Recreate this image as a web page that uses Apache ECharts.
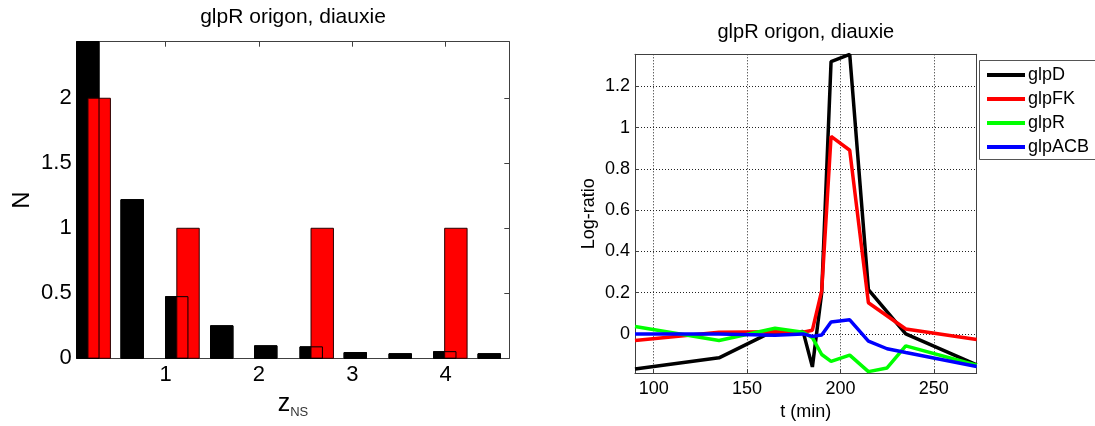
<!DOCTYPE html>
<html>
<head>
<meta charset="utf-8">
<script src="https://cdn.jsdelivr.net/npm/echarts@6.0.0/dist/echarts.min.js"></script>
<style>
  html, body { margin: 0; padding: 0; background: #fff; }
  #chart { width: 1095px; height: 426px; }
</style>
</head>
<body>
<div id="chart"></div>
<script>
// ---- data ----
const TITLE = 'glpR origon, diauxie';

// z_NS histogram: black bins (all genes) and red bins (glpR origon genes)
const BLACK_BIN_CENTERS = [0.168, 0.643, 1.120, 1.602, 2.073, 2.560, 3.032, 3.513, 3.990, 4.466];
const BLACK_COUNTS      = [3.0, 1.22, 0.474, 0.25, 0.096, 0.088, 0.044, 0.035, 0.051, 0.035];
const RED_BIN_CENTERS   = [0.290, 1.241, 2.678, 4.109];
const RED_COUNTS        = [2, 1, 1, 1];
const ZNS_TICKS = [1, 2, 3, 4];
const N_TICKS   = [0, 0.5, 1, 1.5, 2];

// log-ratio time courses
const GENE_NAMES = ['glpD', 'glpFK', 'glpR', 'glpACB'];
const T_GLPD   = [90, 135, 160, 180, 185, 190, 195, 205, 215, 235, 273];
const GLPD     = [-0.17, -0.116, -0.005, 0.012, -0.16, 0.2, 1.32, 1.355, 0.215, 0.0, -0.15];
const T_GLPFK  = [90, 135, 165, 180, 185, 190, 195, 205, 215, 235, 273];
const GLPFK    = [-0.032, 0.008, 0.01, 0.008, 0.018, 0.21, 0.957, 0.89, 0.151, 0.024, -0.027];
const T_GLPR   = [90, 135, 165, 180, 185, 190, 195, 205, 215, 225, 235, 273];
const GLPR     = [0.036, -0.032, 0.027, 0.008, -0.018, -0.10, -0.133, -0.103, -0.183, -0.165, -0.058, -0.152];
const T_GLPACB = [90, 135, 165, 180, 185, 190, 195, 205, 215, 225, 235, 273];
const GLPACB   = [0.0, 0.0, -0.006, 0.0, -0.012, -0.005, 0.058, 0.068, -0.035, -0.072, -0.09, -0.158];
const T_TICKS   = [100, 150, 200, 250];
const LOG_TICKS = [0, 0.2, 0.4, 0.6, 0.8, 1, 1.2];

// ---- styling ----
const FONT = '"Liberation Sans", Arial, Helvetica, sans-serif';
const BAR_W = 0.24;
const BOX = '#404040';
const GENE_COLORS = ['#000000', '#ff0000', '#00ff00', '#0000ff'];

const pairs = (xs, ys) => xs.map((x, i) => [x, ys[i]]);

function barItem(fill, stroke) {
  return function (params, api) {
    const c = api.value(0), h = api.value(1);
    const p0 = api.coord([c - BAR_W / 2, h]);
    const p1 = api.coord([c + BAR_W / 2, 0]);
    const cs = params.coordSys;
    const shape = echarts.graphic.clipRectByRect(
      { x: p0[0], y: p0[1], width: p1[0] - p0[0], height: p1[1] - p0[1] },
      { x: cs.x, y: cs.y, width: cs.width, height: cs.height }
    );
    if (!shape) return;
    return {
      type: 'rect',
      shape: shape,
      style: { fill: fill, stroke: stroke, lineWidth: 1 }
    };
  };
}

function frameAxis(gridIndex, position, min, max) {
  return {
    gridIndex, position, type: 'value', min, max,
    axisLine: { show: true, onZero: false, lineStyle: { color: BOX, width: 1 } },
    axisTick: { show: false },
    axisLabel: { show: false },
    splitLine: { show: false }
  };
}

const chart = echarts.init(document.getElementById('chart'), null, { renderer: 'canvas' });

const option = {
  animation: false,
  backgroundColor: '#ffffff',
  textStyle: { fontFamily: FONT, color: '#000' },
  grid: [
    { left: 76.7, top: 41.7, width: 432.6, height: 316.6 },
    { left: 635, top: 54.3, width: 341.7, height: 324 }
  ],
  xAxis: [
    {
      gridIndex: 0, position: 'bottom', type: 'value', min: 0.049, max: 4.681,
      axisLine: { show: true, onZero: false, lineStyle: { color: BOX, width: 1 } },
      axisTick: { show: true, inside: true, length: 5, customValues: ZNS_TICKS, lineStyle: { color: BOX } },
      axisLabel: { customValues: ZNS_TICKS, fontSize: 22, margin: 6, color: '#000', fontFamily: FONT },
      splitLine: { show: false },
      name: '{z|z}{ns|NS}',
      nameLocation: 'middle',
      nameGap: 25,
      nameTextStyle: {
        fontFamily: FONT,
        rich: {
          z: { fontSize: 25, lineHeight: 25, color: '#000', fontFamily: FONT },
          ns: { fontSize: 13, lineHeight: 13, padding: [15, 0, 0, 0], verticalAlign: 'top', color: '#333', fontFamily: FONT }
        }
      }
    },
    Object.assign(frameAxis(0, 'top', 0.049, 4.681), {
      axisTick: { show: true, inside: true, length: 5, customValues: ZNS_TICKS, lineStyle: { color: BOX } },
      name: TITLE, nameLocation: 'middle', nameGap: 14,
      nameTextStyle: { fontSize: 21, color: '#000', fontFamily: FONT }
    }),
    {
      gridIndex: 1, position: 'bottom', type: 'value', min: 90, max: 273,
      axisLine: { show: true, onZero: false, lineStyle: { color: BOX, width: 1 } },
      axisTick: { show: true, inside: true, length: 4, customValues: T_TICKS, lineStyle: { color: BOX } },
      axisLabel: { customValues: T_TICKS, fontSize: 18, margin: 7, color: '#000', fontFamily: FONT },
      splitLine: { show: true, lineStyle: { color: '#222', type: [1, 2], width: 1 } },
      name: 't (min)', nameLocation: 'middle', nameGap: 27,
      nameTextStyle: { fontSize: 18, color: '#000', fontFamily: FONT }
    },
    Object.assign(frameAxis(1, 'top', 90, 273), {
      name: TITLE, nameLocation: 'middle', nameGap: 12,
      nameTextStyle: { fontSize: 20, color: '#000', fontFamily: FONT }
    })
  ],
  yAxis: [
    {
      gridIndex: 0, position: 'left', type: 'value', min: 0, max: 2.435,
      axisLine: { show: true, onZero: false, lineStyle: { color: BOX, width: 1 } },
      axisTick: { show: true, inside: true, length: 5, customValues: N_TICKS, lineStyle: { color: BOX } },
      axisLabel: { customValues: N_TICKS, fontSize: 22, margin: 5, color: '#000', fontFamily: FONT },
      splitLine: { show: false },
      name: 'N', nameLocation: 'middle', nameGap: 42, nameRotate: 90,
      nameTextStyle: { fontSize: 24, color: '#000', fontFamily: FONT }
    },
    Object.assign(frameAxis(0, 'right', 0, 2.435), {
      axisTick: { show: true, inside: true, length: 5, customValues: N_TICKS, lineStyle: { color: BOX } }
    }),
    {
      gridIndex: 1, position: 'left', type: 'value', min: -0.19, max: 1.355,
      axisLine: { show: true, onZero: false, lineStyle: { color: BOX, width: 1 } },
      axisTick: { show: true, inside: true, length: 4, customValues: LOG_TICKS, lineStyle: { color: BOX } },
      axisLabel: { customValues: LOG_TICKS, fontSize: 18, margin: 5, color: '#000', fontFamily: FONT },
      splitLine: { show: true, lineStyle: { color: '#222', type: [1, 2], width: 1 } },
      name: 'Log-ratio', nameLocation: 'middle', nameGap: 37, nameRotate: 90,
      nameTextStyle: { fontSize: 18, color: '#000', fontFamily: FONT }
    },
    frameAxis(1, 'right', -0.19, 1.355)
  ],
  legend: {
    orient: 'vertical',
    left: 982, top: 61,
    itemWidth: 38, itemHeight: 4, itemGap: 6,
    icon: 'rect',
    data: GENE_NAMES,
    textStyle: { fontSize: 18, color: '#000', fontFamily: FONT, padding: [0, 0, 0, -2] },
    selectedMode: false
  },
  graphic: [
    {
      type: 'rect', z: 1,
      shape: { x: 979.5, y: 60.5, width: 140, height: 99 },
      style: { fill: '#fff', stroke: '#555', lineWidth: 1 }
    }
  ],
  series: [
    {
      type: 'custom', name: 'all bins', xAxisIndex: 0, yAxisIndex: 0,
      data: pairs(BLACK_BIN_CENTERS, BLACK_COUNTS), encode: { x: 0, y: 1 },
      renderItem: barItem('#000000', '#000000'), z: 2
    },
    {
      type: 'custom', name: 'origon bins', xAxisIndex: 0, yAxisIndex: 0,
      data: pairs(RED_BIN_CENTERS, RED_COUNTS), encode: { x: 0, y: 1 },
      renderItem: barItem('#ff0000', '#2a0000'), z: 3
    },
    {
      type: 'custom', name: 'all bins edge', xAxisIndex: 0, yAxisIndex: 0,
      data: pairs(BLACK_BIN_CENTERS, BLACK_COUNTS), encode: { x: 0, y: 1 },
      renderItem: barItem('none', '#000000'), z: 4
    },
    ...[[T_GLPD, GLPD], [T_GLPFK, GLPFK], [T_GLPR, GLPR], [T_GLPACB, GLPACB]].map((d, i) => ({
      type: 'line', name: GENE_NAMES[i], xAxisIndex: 2, yAxisIndex: 2,
      data: pairs(d[0], d[1]),
      symbol: 'none', showSymbol: false,
      color: GENE_COLORS[i],
      lineStyle: { color: GENE_COLORS[i], width: 3.5 },
      itemStyle: { color: GENE_COLORS[i] },
      z: 3 + i
    }))
  ]
};

chart.setOption(option);
</script>
</body>
</html>
